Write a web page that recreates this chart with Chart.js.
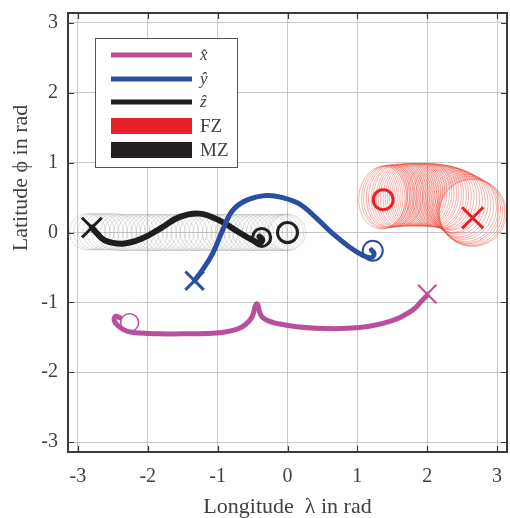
<!DOCTYPE html>
<html>
<head>
<meta charset="utf-8">
<script src="https://cdn.jsdelivr.net/npm/chart.js@4/dist/chart.umd.min.js"></script>
<style>
  html, body { margin: 0; padding: 0; background: #fff; }
</style>
</head>
<body>
<canvas id="globe" width="510" height="518"></canvas>
<script>
// tick values (rad)
const xTicks = [-3, -2, -1, 0, 1, 2, 3];
const yTicks = [-3, -2, -1, 0, 1, 2, 3];

// x-hat axis trajectory, start (cross) -> end (circle)
const xhatLon = [2.00, 1.93, 1.79, 1.50, 1.03, 0.41, -0.11, -0.36, -0.44, -0.52, -0.69, -1.02, -1.50, -1.83, -2.10, -2.30, -2.42, -2.48, -2.46, -2.40];
const xhatLat = [-0.90, -0.97, -1.11, -1.26, -1.36, -1.37, -1.31, -1.21, -1.02, -1.23, -1.37, -1.44, -1.45, -1.45, -1.44, -1.41, -1.34, -1.26, -1.20, -1.22];

// y-hat axis trajectory
const yhatLon = [-1.33, -1.22, -1.07, -0.93, -0.79, -0.59, -0.30, -0.07, 0.17, 0.41, 0.64, 0.89, 1.08, 1.20, 1.24, 1.20];
const yhatLat = [-0.69, -0.54, -0.30, 0.03, 0.31, 0.46, 0.53, 0.50, 0.41, 0.21, -0.01, -0.21, -0.33, -0.36, -0.30, -0.25];

// z-hat axis trajectory
const zhatLon = [-2.80, -2.72, -2.62, -2.37, -2.09, -1.80, -1.55, -1.26, -0.97, -0.69, -0.50, -0.40, -0.36, -0.40];
const zhatLat = [0.07, -0.02, -0.11, -0.16, -0.09, 0.07, 0.22, 0.27, 0.17, 0.00, -0.11, -0.15, -0.10, -0.06];

// start / end markers: [x-hat, y-hat, z-hat, FZ, MZ]
const startLon = [2.00, -1.33, -2.80, 2.65];
const startLat = [-0.88, -0.69, 0.07, 0.21];
const endLon = [-2.26, 1.22, -0.37, 1.37, 0.00];
const endLat = [-1.29, -0.26, -0.07, 0.47, 0.00];

// friction zone cone sections (centre lon/lat, half widths in rad)
const fzLon = [1.36, 1.39, 1.42, 1.45, 1.48, 1.51, 1.54, 1.57, 1.60, 1.63, 1.66, 1.69, 1.72, 1.75, 1.78, 1.81, 1.84, 1.87, 1.90, 1.93, 1.96, 1.99, 2.02, 2.05, 2.08, 2.11, 2.14, 2.17, 2.20, 2.23, 2.26, 2.29,
               2.32, 2.35, 2.38, 2.41, 2.44, 2.47, 2.50, 2.53, 2.56, 2.58, 2.60, 2.62, 2.64, 2.65];
const fzLat = [0.50, 0.51, 0.51, 0.52, 0.52, 0.52, 0.53, 0.53, 0.53, 0.53, 0.54, 0.54, 0.54, 0.54, 0.54, 0.54, 0.54, 0.54, 0.54, 0.54, 0.54, 0.54, 0.54, 0.54, 0.53, 0.53, 0.53, 0.52, 0.52, 0.51, 0.51, 0.50,
               0.49, 0.48, 0.46, 0.45, 0.43, 0.41, 0.39, 0.37, 0.35, 0.33, 0.32, 0.30, 0.29, 0.28];
const fzRx = [0.34, 0.33, 0.33, 0.32, 0.32, 0.31, 0.31, 0.30, 0.30, 0.30, 0.29, 0.29, 0.29, 0.29, 0.29, 0.29, 0.29, 0.29, 0.29, 0.29, 0.29, 0.29, 0.30, 0.30, 0.30, 0.31, 0.31, 0.32, 0.32, 0.33, 0.33, 0.34,
              0.35, 0.36, 0.37, 0.38, 0.39, 0.40, 0.41, 0.42, 0.43, 0.44, 0.45, 0.46, 0.47, 0.48];
const fzRy = [0.45, 0.45, 0.45, 0.45, 0.45, 0.45, 0.45, 0.45, 0.45, 0.45, 0.45, 0.45, 0.45, 0.45, 0.45, 0.45, 0.45, 0.45, 0.45, 0.45, 0.45, 0.45, 0.45, 0.45, 0.45, 0.45, 0.45, 0.45, 0.45, 0.45, 0.45, 0.45,
              0.45, 0.45, 0.46, 0.46, 0.46, 0.47, 0.47, 0.47, 0.48, 0.48, 0.48, 0.48, 0.48, 0.48];

// motion zone cone sections
const mzLon = [-2.86, -2.80, -2.74, -2.67, -2.61, -2.55, -2.48, -2.42, -2.36, -2.29, -2.23, -2.17, -2.10, -2.04, -1.98, -1.91, -1.85, -1.79, -1.72, -1.66, -1.60, -1.53, -1.47, -1.41, -1.34, -1.28, -1.22, -1.15, -1.09, -1.03, -0.96, -0.90, -0.84, -0.77, -0.71, -0.65, -0.58, -0.52, -0.46, -0.39, -0.33, -0.27, -0.20, -0.14, -0.08, -0.03, 0.00];
const mzLat = [0.01, 0.01, 0.01, 0.01, 0.01, 0.01, 0.01, 0.00, 0.00, 0.00, 0.00, 0.00, 0.00, 0.00, 0.00, 0.00, 0.00, 0.00, 0.00, 0.00, 0.00, 0.00, 0.00, 0.00, 0.00, 0.00, 0.00, 0.00, 0.00, 0.00, 0.00, 0.00, 0.00, 0.00, 0.00, 0.00, 0.00, 0.00, 0.00, 0.00, 0.00, 0.00, 0.00, 0.00, 0.00, 0.00, 0.00];
const mzR = 0.26;

const colXhat = '#b84f9b';
const colYhat = '#2c4ea0';
const colZhat = '#1e1e1e';
const colFZ = '#e8202a';
const colMZ = '#231f20';
const textCol = '#404040';
const serif = "'Liberation Serif', 'Times New Roman', serif";

function pts(lon, lat) {
  return lon.map((v, i) => ({ x: v, y: lat[i] }));
}

function trajectory(label, lon, lat, color, width) {
  return {
    label: label,
    data: pts(lon, lat),
    showLine: true,
    pointRadius: 0,
    borderColor: color,
    borderWidth: width,
    borderCapStyle: 'round',
    borderJoinStyle: 'round',
    tension: 0.4
  };
}

function marker(label, lon, lat, style, color, radius, width) {
  return {
    label: label,
    data: [{ x: lon, y: lat }],
    pointStyle: style,
    pointRadius: radius,
    pointBorderColor: color,
    pointBackgroundColor: 'rgba(0,0,0,0)',
    pointBorderWidth: width,
    showLine: false
  };
}

// cone sections drawn under the trajectories
const conePlugin = {
  id: 'cones',
  beforeDatasetsDraw(chart) {
    const { ctx, chartArea: a, scales: { x, y } } = chart;
    ctx.save();
    ctx.beginPath();
    ctx.rect(a.left, a.top, a.width, a.height);
    ctx.clip();

    ctx.lineWidth = 0.5;
    ctx.strokeStyle = 'rgba(120,120,120,0.45)';
    mzLon.forEach((lon, i) => {
      const cx = x.getPixelForValue(lon);
      const cy = y.getPixelForValue(mzLat[i]);
      const rx = Math.abs(x.getPixelForValue(lon + mzR) - cx);
      const ry = Math.abs(y.getPixelForValue(mzLat[i] + mzR) - cy);
      ctx.beginPath();
      ctx.ellipse(cx, cy, rx, ry, 0, 0, Math.PI * 2);
      ctx.stroke();
    });

    ctx.lineWidth = 0.6;
    ctx.strokeStyle = 'rgba(238,60,45,0.65)';
    fzLon.forEach((lon, i) => {
      const cx = x.getPixelForValue(lon);
      const cy = y.getPixelForValue(fzLat[i]);
      const rx = Math.abs(x.getPixelForValue(lon + fzRx[i]) - cx);
      const ry = Math.abs(y.getPixelForValue(fzLat[i] + fzRy[i]) - cy);
      ctx.beginPath();
      ctx.ellipse(cx, cy, rx, ry, 0.1, 0, Math.PI * 2);
      ctx.stroke();
    });
    ctx.restore();
  }
};

// box frame, inward ticks, tick labels, axis titles and legend
const framePlugin = {
  id: 'frame',
  afterDraw(chart) {
    const { ctx, chartArea: a, scales: { x, y } } = chart;
    ctx.save();
    ctx.strokeStyle = '#3a3a3a';
    ctx.lineWidth = 1.2;
    ctx.beginPath();
    xTicks.forEach(v => {
      const px = Math.round(x.getPixelForValue(v)) + 0.5;
      ctx.moveTo(px, a.top); ctx.lineTo(px, a.top + 6);
      ctx.moveTo(px, a.bottom); ctx.lineTo(px, a.bottom - 6);
    });
    yTicks.forEach(v => {
      const py = Math.round(y.getPixelForValue(v)) + 0.5;
      ctx.moveTo(a.left, py); ctx.lineTo(a.left + 6, py);
      ctx.moveTo(a.right, py); ctx.lineTo(a.right - 6, py);
    });
    ctx.stroke();
    ctx.lineWidth = 2;
    ctx.strokeRect(a.left, a.top, a.width, a.height);

    // tick labels
    ctx.fillStyle = textCol;
    ctx.font = '20px ' + serif;
    ctx.textBaseline = 'middle';
    ctx.textAlign = 'center';
    xTicks.forEach(v => ctx.fillText(String(v), x.getPixelForValue(v), a.bottom + 25));
    ctx.textAlign = 'right';
    yTicks.forEach(v => ctx.fillText(String(v), a.left - 10, y.getPixelForValue(v)));

    // axis titles
    ctx.font = '22px ' + serif;
    ctx.textAlign = 'center';
    ctx.fillText('Longitude  λ in rad', (a.left + a.right) / 2, 507);
    ctx.save();
    ctx.translate(21, 178);
    ctx.rotate(-Math.PI / 2);
    ctx.fillText('Latitude ϕ in rad', 0, 0);
    ctx.restore();

    // legend
    const lx = 95, ly = 38, lw = 142, lh = 129;
    ctx.fillStyle = '#fff';
    ctx.fillRect(lx, ly, lw, lh);
    ctx.strokeStyle = '#555';
    ctx.lineWidth = 1;
    ctx.strokeRect(lx + 0.5, ly + 0.5, lw, lh);
    const rows = [
      { text: 'x̂', color: colXhat, y: 55, kind: 'line' },
      { text: 'ŷ', color: colYhat, y: 79, kind: 'line' },
      { text: 'ẑ', color: colZhat, y: 102, kind: 'line' },
      { text: 'FZ', color: colFZ, y: 126, kind: 'patch' },
      { text: 'MZ', color: colMZ, y: 150, kind: 'patch' }
    ];
    rows.forEach(r => {
      if (r.kind === 'line') {
        ctx.strokeStyle = r.color;
        ctx.lineWidth = 5;
        ctx.beginPath();
        ctx.moveTo(111, r.y); ctx.lineTo(192, r.y);
        ctx.stroke();
        ctx.font = 'italic 17px ' + serif;
      } else {
        ctx.fillStyle = r.color;
        ctx.fillRect(111, r.y - 8, 81, 16);
        ctx.font = '19px ' + serif;
      }
      ctx.fillStyle = textCol;
      ctx.textAlign = 'left';
      ctx.fillText(r.text, 200, r.y + 1);
    });
    ctx.restore();
  }
};

new Chart(document.getElementById('globe'), {
  type: 'scatter',
  data: {
    datasets: [
      marker('MZ end', endLon[4], endLat[4], 'circle', colMZ, 10, 3),
      marker('x-hat start', startLon[0], startLat[0], 'crossRot', colXhat, 13, 2),
      marker('x-hat end', endLon[0], endLat[0], 'circle', colXhat, 9, 1.5),
      marker('y-hat start', startLon[1], startLat[1], 'crossRot', colYhat, 13, 3),
      marker('y-hat end', endLon[1], endLat[1], 'circle', colYhat, 10, 2),
      marker('z-hat start', startLon[2], startLat[2], 'crossRot', colZhat, 14, 3),
      marker('z-hat end', endLon[2], endLat[2], 'circle', colZhat, 9, 3),
      marker('FZ start', startLon[3], startLat[3], 'crossRot', colFZ, 15, 3),
      marker('FZ end', endLon[3], endLat[3], 'circle', colFZ, 10, 3),
      trajectory('x-hat', xhatLon, xhatLat, colXhat, 5),
      trajectory('y-hat', yhatLon, yhatLat, colYhat, 5),
      trajectory('z-hat', zhatLon, zhatLat, colZhat, 6)
    ]
  },
  options: {
    responsive: false,
    devicePixelRatio: 1,
    animation: false,
    layout: { autoPadding: false, padding: { top: 13, right: 3, left: 0, bottom: 0 } },
    plugins: { legend: { display: false }, tooltip: { enabled: false } },
    scales: {
      x: {
        type: 'linear',
        min: -Math.PI,
        max: Math.PI,
        afterBuildTicks: s => { s.ticks = xTicks.map(v => ({ value: v })); },
        afterFit: s => { s.height = 66; },
        grid: { color: '#c8c8c8', lineWidth: 1, drawTicks: false },
        border: { display: false },
        ticks: { display: false }
      },
      y: {
        type: 'linear',
        min: -Math.PI,
        max: Math.PI,
        afterBuildTicks: s => { s.ticks = yTicks.map(v => ({ value: v })); },
        afterFit: s => { s.width = 68; },
        grid: { color: '#c8c8c8', lineWidth: 1, drawTicks: false },
        border: { display: false },
        ticks: { display: false }
      }
    }
  },
  plugins: [conePlugin, framePlugin]
});
</script>
</body>
</html>
